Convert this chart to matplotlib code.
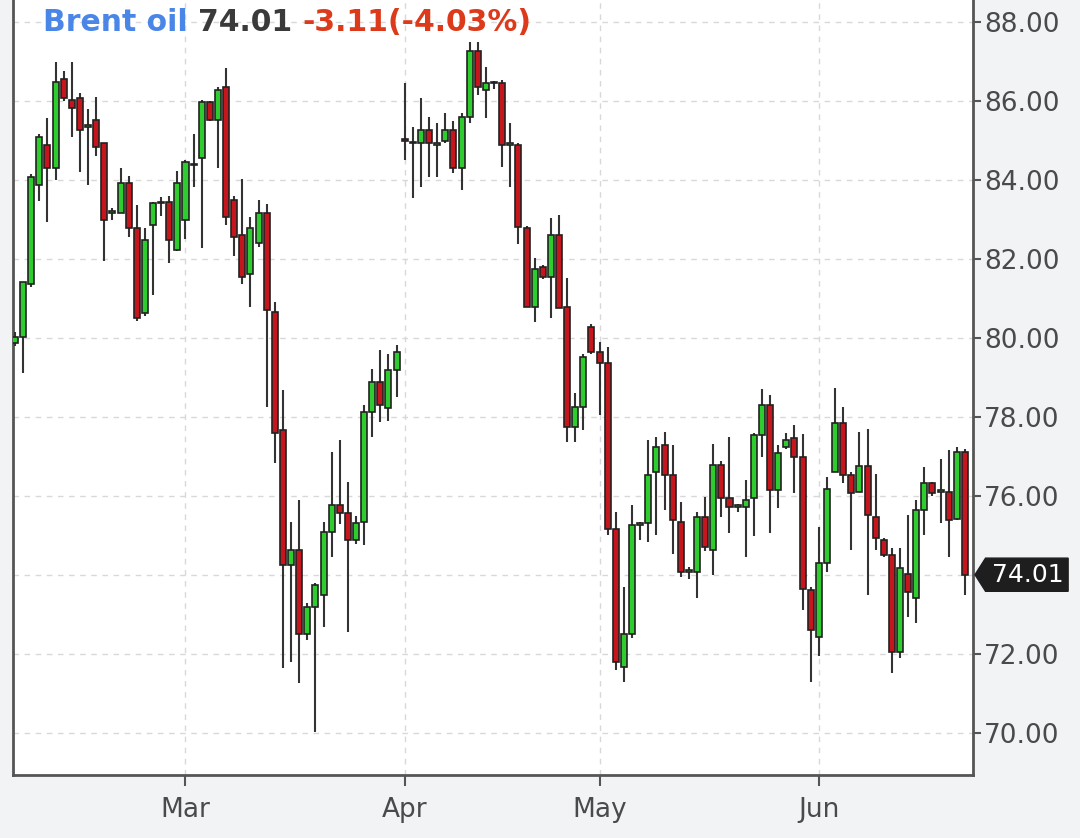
import matplotlib.pyplot as plt
from matplotlib.patches import Polygon
import matplotlib.transforms as mtransforms

# Brent oil daily candles, Feb - Jun
opens = [79.87, 80.03, 81.38, 83.87, 84.89, 84.30, 86.57, 86.03, 86.07, 85.35,
         85.52, 84.93, 83.17, 83.16, 83.92, 82.78, 80.63, 82.86, 83.41, 83.45,
         82.23, 82.99, 84.38, 84.55, 85.98, 85.52, 86.36, 83.49, 82.60, 81.63,
         82.40, 83.16, 80.67, 77.67, 74.25, 74.63, 72.52, 73.20, 73.50, 75.10,
         75.77, 75.56, 74.90, 75.35, 78.13, 78.89, 78.22, 79.19, 85.03, 84.93,
         84.93, 85.28, 84.90, 85.00, 85.27, 84.30, 85.59, 87.27, 86.28, 86.45,
         86.45, 84.89, 84.89, 82.79, 80.79, 81.80, 81.55, 82.61, 80.79, 77.75,
         78.26, 80.29, 79.65, 79.36, 75.18, 71.68, 72.52, 75.27, 75.31, 76.62,
         77.29, 76.53, 75.35, 74.08, 74.08, 75.48, 74.63, 76.78, 75.94, 75.73,
         75.73, 75.94, 77.54, 78.30, 76.15, 77.25, 77.46, 77.00, 73.62, 72.44,
         74.30, 76.62, 77.84, 76.53, 76.11, 76.76, 75.48, 74.89, 74.51, 72.06,
         74.04, 73.41, 75.65, 76.32, 76.11, 76.11, 75.43, 77.12]
highs = [80.15, 81.43, 84.16, 85.18, 85.56, 86.99, 86.75, 86.99, 86.20, 85.80,
         86.11, 84.93, 83.30, 84.30, 84.10, 83.37, 82.78, 83.45, 83.58, 83.60,
         84.22, 84.50, 85.18, 86.03, 86.00, 86.36, 86.83, 83.60, 84.04, 83.07,
         83.49, 83.40, 80.92, 78.68, 75.35, 75.90, 73.30, 73.80, 75.35, 77.12,
         77.42, 76.36, 75.50, 78.30, 79.23, 79.70, 79.60, 79.82, 86.45, 85.35,
         86.07, 85.60, 85.45, 85.69, 85.50, 85.70, 87.50, 87.50, 86.87, 86.50,
         86.53, 85.44, 84.95, 82.85, 82.02, 81.85, 83.03, 83.11, 81.51, 78.60,
         79.60, 80.35, 79.91, 79.78, 75.60, 73.71, 75.77, 75.35, 77.42, 77.50,
         77.63, 77.30, 75.86, 74.20, 75.60, 75.98, 77.33, 76.90, 77.50, 75.80,
         76.41, 77.60, 78.70, 78.56, 77.30, 77.60, 77.80, 77.58, 73.70, 75.22,
         76.49, 78.73, 78.26, 76.60, 77.63, 77.71, 76.57, 74.95, 74.68, 74.68,
         75.52, 75.90, 76.74, 76.35, 76.95, 77.16, 77.25, 77.20]
lows = [79.80, 79.11, 81.30, 83.46, 82.95, 84.00, 86.00, 85.10, 84.20, 83.87,
        84.60, 81.96, 83.00, 83.16, 82.55, 80.43, 80.55, 81.10, 83.10, 81.90,
        82.20, 82.50, 83.83, 82.28, 85.50, 84.30, 82.86, 82.07, 81.38, 80.80,
        82.30, 78.26, 76.83, 71.64, 71.81, 71.26, 72.35, 70.03, 72.69, 74.46,
        75.30, 72.56, 74.80, 74.76, 77.50, 77.88, 77.90, 78.51, 84.51, 83.54,
        83.83, 84.08, 84.08, 84.95, 84.17, 83.75, 85.44, 86.15, 85.56, 86.30,
        84.34, 83.83, 82.39, 80.79, 80.41, 81.50, 80.50, 80.75, 77.37, 77.37,
        77.67, 79.60, 78.05, 75.01, 71.59, 71.30, 72.40, 74.89, 74.84, 75.01,
        75.65, 74.54, 73.96, 73.90, 73.41, 74.60, 74.00, 75.48, 75.06, 75.60,
        74.46, 75.00, 77.00, 75.06, 75.69, 77.20, 76.07, 73.11, 71.30, 71.94,
        74.08, 76.60, 76.32, 74.63, 76.10, 73.49, 74.63, 74.45, 71.51, 71.89,
        72.94, 72.78, 75.01, 76.00, 75.31, 74.46, 75.40, 73.49]
closes = [80.03, 81.43, 84.08, 85.10, 84.30, 86.49, 86.07, 85.82, 85.27, 85.35,
          84.84, 82.99, 83.17, 83.92, 82.78, 80.50, 82.48, 83.41, 83.45, 82.48,
          83.92, 84.46, 84.38, 85.98, 85.52, 86.28, 83.07, 82.57, 81.55, 82.78,
          83.16, 80.71, 77.59, 74.25, 74.63, 72.52, 73.20, 73.75, 75.10, 75.77,
          75.56, 74.89, 75.31, 78.13, 78.89, 78.30, 79.19, 79.65, 85.00, 84.93,
          85.28, 84.93, 84.90, 85.27, 84.30, 85.59, 87.27, 86.36, 86.45, 86.45,
          84.89, 84.89, 82.82, 80.79, 81.76, 81.55, 82.61, 80.75, 77.75, 78.26,
          79.53, 79.65, 79.36, 75.18, 71.81, 72.52, 75.27, 75.30, 76.53, 77.25,
          76.53, 75.39, 74.08, 74.08, 75.48, 74.72, 76.78, 75.94, 75.73, 75.73,
          75.91, 77.54, 78.30, 76.15, 77.08, 77.42, 77.00, 73.66, 72.61, 74.30,
          76.19, 77.84, 76.53, 76.07, 76.76, 75.52, 74.93, 74.51, 72.06, 74.17,
          73.58, 75.65, 76.32, 76.07, 76.11, 75.39, 77.12, 74.01]

month_labels = ["Mar", "Apr", "May", "Jun"]
month_idx = [21, 48, 72, 99]

last_price = 74.01
change = -3.11
change_pct = -4.03

GREEN = "#2ecc2e"
RED = "#c4161c"
AXIS = "#555555"

fig = plt.figure(figsize=(10.8, 8.38), dpi=100)
fig.patch.set_facecolor("#f2f3f5")
ax = fig.add_axes([0.012, 0.0752, 0.889, 0.9248])
ax.set_facecolor("white")

n = len(closes)
xs = list(range(n))
up = [c >= o for o, c in zip(opens, closes)]
colors = [GREEN if u else RED for u in up]

ax.vlines(xs, lows, highs, color="#333333", linewidth=1.5, zorder=3)
bottoms = [min(o, c) for o, c in zip(opens, closes)]
heights = [max(abs(c - o), 0.04) for o, c in zip(opens, closes)]
ax.bar(xs, heights, bottom=bottoms, width=0.74, color=colors,
       edgecolor="#222222", linewidth=1.2, zorder=4)

ax.set_xlim(-0.25, 118.0)
ax.set_ylim(68.94, 88.56)

# the 74.00 label sits under the last-price tag, so leave it blank
yt = list(range(70, 89, 2))
ax.set_yticks(yt)
ax.set_yticklabels(["" if v == 74 else f"{v:.2f}" for v in yt])
ax.yaxis.tick_right()
ax.set_xticks(month_idx)
ax.set_xticklabels(month_labels)

ax.tick_params(axis="y", direction="out", length=6, width=1.5, color=AXIS,
               labelsize=19, labelcolor="#4a4a4a", pad=2)
ax.tick_params(axis="x", direction="out", length=8, width=1.5, color=AXIS,
               labelsize=19, labelcolor="#4a4a4a", pad=8)

ax.grid(True, color="#d8d8d8", linestyle=(0, (4, 4)), linewidth=1.0, zorder=0)
ax.set_axisbelow(True)

for side in ["left", "bottom", "right"]:
    ax.spines[side].set_color(AXIS)
    ax.spines[side].set_linewidth(2)
ax.spines["top"].set_visible(False)

# last price tag on the right axis
trans = mtransforms.blended_transform_factory(ax.transAxes, ax.transData)
hh = 0.42
tag = Polygon([(1.002, last_price), (1.013, last_price + hh), (1.099, last_price + hh),
               (1.099, last_price - hh), (1.013, last_price - hh)],
              closed=True, transform=trans, facecolor="#1e1e1e", edgecolor="#1e1e1e",
              clip_on=False, zorder=10)
ax.add_patch(tag)
ax.text(1.057, last_price, f"{last_price:.2f}", transform=trans, color="white",
        fontsize=18, ha="center", va="center", zorder=11, clip_on=False)

# header text in three colours
renderer = fig.canvas.get_renderer()
x0 = 0.040
parts = [("Brent oil ", "#4a86e8"), (f"{last_price:.2f} ", "#3a3a3a"),
         (f"{change:.2f}({change_pct:.2f}%)", "#dc3a1a")]
for s, col in parts:
    t = fig.text(x0, 0.9737, s, color=col, fontsize=21.5, fontweight="bold",
                 ha="left", va="center")
    bb = t.get_window_extent(renderer=renderer)
    x0 += bb.width / fig.bbox.width

fig.savefig("out.png", dpi=100, facecolor=fig.get_facecolor())
